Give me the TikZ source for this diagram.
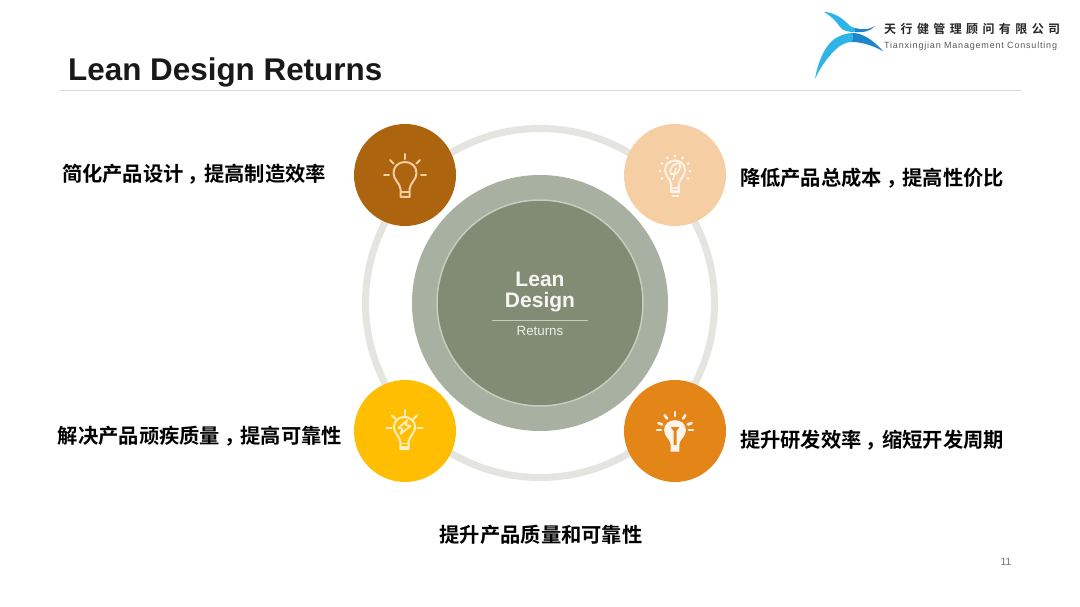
\documentclass[tikz,border=0pt]{standalone}
\usepackage{fontspec}
\setmainfont{Liberation Sans}
\newfontfamily\cjk{Noto Sans CJK SC}[BoldFont=* Bold]
\definecolor{brownfill}{HTML}{AD640E}
\definecolor{peachfill}{HTML}{F5CFA3}
\definecolor{yellowfill}{HTML}{FFBE02}
\definecolor{orangefill}{HTML}{E48518}
\definecolor{ringgrey}{HTML}{E4E4E1}
\definecolor{bandgreen}{HTML}{A8B0A1}
\definecolor{coregreen}{HTML}{828C74}
\definecolor{coreedge}{HTML}{C6CDBF}
\definecolor{logodark}{HTML}{1B86C8}
\definecolor{logolight}{HTML}{2DB5E8}
\tikzset{
    lamp/.style={circle, minimum size=102pt, inner sep=0pt},
    goal/.style={font=\cjk\bfseries\fontsize{20.3pt}{22pt}\selectfont, text=black, inner sep=0pt},
    glass/.style={line width=2pt, line join=round},
    ray/.style={line width=2pt, line cap=round},
}
% bulb outline, centred on the middle of its glass
\newcommand{\bulbshape}{(-4.5,23) -- (-4.5,15) .. controls (-5,9) and (-11.5,6) .. (-11.5,-1) .. controls (-11.5,-8) and (-6,-12) .. (0,-12) .. controls (6,-12) and (11.5,-8) .. (11.5,-1) .. controls (11.5,6) and (5,9) .. (4.5,15) -- (4.5,23) -- cycle}
\newcommand{\goalcomma}{\hspace{.2em}，\hspace{-.2em}}
\newcommand{\gp}{\hspace{4.4pt}}
\begin{document}
\begin{tikzpicture}[x=1pt, y=-1pt]
    \useasboundingbox (0,0) rectangle (1080,607);
    \fill [white] (0,0) rectangle (1080,607);

    % title and rule
    \node (title) [anchor=west, inner sep=0pt, font=\bfseries\fontsize{31.4pt}{33pt}\selectfont, text=black!90] at (68,72) {Lean Design Returns};
    \draw [line width=1pt, color=black!15] (60,91) -- (1021,91);

    % logo
    \fill [logolight] (815,79) .. controls (818,62) and (824,48) .. (833,40) .. controls (840,35) and (847,33) .. (853,33) -- (852,42) .. controls (846,42) and (840,45) .. (835,50) .. controls (827,58) and (820,68) .. (815,79);
    \fill [logodark] (853,33) .. controls (863,33) and (874,41) .. (883,51) .. controls (875,47) and (864,42) .. (852,42) -- cycle;
    \fill [logolight] (824,12) .. controls (832,12) and (841,17) .. (847,23) .. controls (851,27) and (853,28) .. (855,28) -- (855,32) .. controls (848,32) and (843,31) .. (840,27) .. controls (836,21) and (831,16) .. (824,12);
    \fill [logodark] (855,28) .. controls (862,30) and (869,30) .. (875,26) .. controls (871,31) and (863,33) .. (855,32) -- cycle;
    \node (company) [anchor=west, inner sep=0pt, font=\cjk\bfseries\fontsize{12pt}{13pt}\selectfont, text=black!85] at (884,29) {天\gp 行\gp 健\gp 管\gp 理\gp 顾\gp 问\gp 有\gp 限\gp 公\gp 司};
    \node (companyen) [anchor=west, inner sep=0pt, font=\fontsize{9pt}{10pt}\selectfont\addfontfeature{LetterSpace=9}, text=black!65] at (884,46) {Tianxingjian Management Consulting};

    % outer ring
    \draw [line width=7pt, color=ringgrey] (540,303) circle(174.5);

    % centre disc
    \node (band) [circle, fill=bandgreen, minimum size=256pt, inner sep=0pt] at (540,303) {};
    \node (core) [circle, fill=coregreen, draw=coreedge, line width=1.5pt, minimum size=206pt, inner sep=0pt] at (540,303) {};
    \node (lean) [font=\bfseries\fontsize{21pt}{22pt}\selectfont, text=white!92!coregreen, inner sep=0pt] at (540,279) {Lean};
    \node (design) [font=\bfseries\fontsize{21pt}{22pt}\selectfont, text=white!92!coregreen, inner sep=0pt] at (540,302) {Design};
    \draw [line width=.8pt, color=coreedge] (492,320) -- (588,320);
    \node (returns) [font=\fontsize{13.3pt}{14pt}\selectfont, text=white!85!coregreen, inner sep=0pt] at (540,331) {Returns};

    % four lamps
    \node (lampa) [lamp, fill=brownfill] at (405,175) {};
    \node (lampb) [lamp, fill=peachfill] at (675,175) {};
    \node (lampc) [lamp, fill=yellowfill] at (405,431) {};
    \node (lampd) [lamp, fill=orangefill] at (675,431) {};

    % brown lamp: plain outline
    \begin{scope}[shift={(405,174)}]
        \draw [glass, color=peachfill] \bulbshape;
        \draw [glass, color=peachfill] (-4.5,18) -- (4.5,18);
    \end{scope}
    \begin{scope}[shift={(405,175)}]
        \foreach \a in {180,225,270,315,360}
            \draw [ray, color=peachfill] (\a:16) -- (\a:21);
    \end{scope}

    % peach lamp: leaf in the glass, dots round it
    \begin{scope}[shift={(675,171)}]
        \foreach \a in {150,180,210,240,270,300,330,360,30}
            \fill [white!75!peachfill] (\a:15) circle(1.6);
        \begin{scope}[scale=.87]
            \draw [glass, color=white!75!peachfill] \bulbshape;
        \end{scope}
        \draw [white!75!peachfill, line width=1.6pt] (-4,3) .. controls (-7,-4) and (0,-8) .. (5,-8) .. controls (6,-2) and (3,4) .. (-2,3) -- cycle;
        \draw [white!75!peachfill, line width=1.6pt] (-2,9) -- (1,-3);
        \draw [white!75!peachfill, line width=2.4pt] (-5,17) -- (5,17);
        \draw [white!75!peachfill, line width=2.4pt] (-5,21) -- (5,21);
        \draw [white!75!peachfill, line width=2.4pt] (-3.5,25) -- (3.5,25);
    \end{scope}

    % yellow lamp: flash in the glass
    \begin{scope}[shift={(404.5,428)}]
        \foreach \a in {180,225,270,315,360}
            \draw [ray, color=white!75!yellowfill] (\a:13) -- (\a:18);
        \begin{scope}[scale=.92]
            \draw [glass, color=white!75!yellowfill] \bulbshape;
        \end{scope}
        \draw [white!75!yellowfill, line width=1.7pt, line join=round] (3,-8) -- (-6,0) -- (-2,1) -- (-4,6) -- (6,-2) -- (1,-3) -- cycle;
        \draw [white!75!yellowfill, line width=1.8pt] (-4,15.5) -- (4,15.5);
        \draw [white!75!yellowfill, line width=1.8pt] (-4,19) -- (4,19);
    \end{scope}

    % orange lamp: filled glass
    \begin{scope}[shift={(675,430)}]
        \foreach \a in {180,203,235,270,305,337,360}
            \draw [ray, line width=2.6pt, color=white!90!orangefill] (\a:14) -- (\a:18);
        \begin{scope}[shift={(0,1)}, xscale=.95, yscale=.9]
            \fill [white!92!orangefill] \bulbshape;
        \end{scope}
        \fill [orangefill] (-4.5,-3) -- (4.5,-3) -- (1.5,1) -- (1.5,15) -- (-1.5,15) -- (-1.5,1) -- cycle;
    \end{scope}

    % labels
    \node (goala) [goal] at (194,174) {简化产品设计\goalcomma 提高制造效率};
    \node (goalb) [goal] at (872,178) {降低产品总成本\goalcomma 提高性价比};
    \node (goalc) [goal] at (200,436) {解决产品顽疾质量\goalcomma 提高可靠性};
    \node (goald) [goal] at (872,440) {提升研发效率\goalcomma 缩短开发周期};
    \node (goale) [goal] at (541,535) {提升产品质量和可靠性};

    \node (pagenum) [font=\fontsize{10.5pt}{11pt}\selectfont, text=black!55, inner sep=0pt] at (1006,562) {11};
\end{tikzpicture}
\end{document}
